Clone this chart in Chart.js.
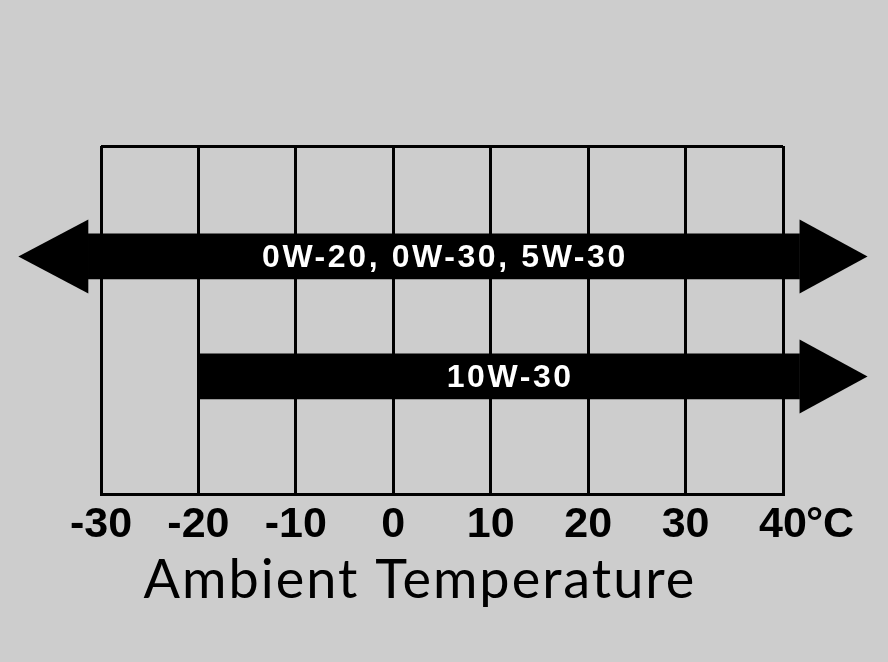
<!DOCTYPE html>
<html>
<head>
<meta charset="utf-8">
<script src="https://cdn.jsdelivr.net/npm/chart.js@4.4.1/dist/chart.umd.min.js"></script>
<style>
  html, body { margin: 0; padding: 0; background: #cdcdcd; }
  canvas { display: block; }
</style>
</head>
<body>
<canvas id="c" width="888" height="662"></canvas>
<script>
// oil grades vs ambient temperature (°C)
const grades    = ["0W-20, 0W-30, 5W-30", "10W-30"];
const rows      = [1, 2];
const rangeLow  = [-31.3, -20];
const rangeHigh = [41.7, 41.7];
const openLow   = [true, false];   // range continues below the scale
const openHigh  = [true, true];    // range continues above the scale
const labelAt   = [5.2, 11.9];
const tickVals  = [-30, -20, -10, 0, 10, 20, 30, 40];
const unit      = "°C";
const axisTitle = "Ambient Temperature";

const INK = "#000";
const TICK_FONT = "bold 43px 'Liberation Sans', Arial, sans-serif";

const arrows = {
  id: "arrows",
  afterDatasetsDraw(chart) {
    const ctx = chart.ctx, x = chart.scales.x;
    const meta = chart.getDatasetMeta(0);
    ctx.save();
    meta.data.forEach((el, i) => {
      const p = el.getProps(["x", "y", "base", "height"], true);
      const head = 37, len = 68;
      ctx.fillStyle = INK;
      if (openHigh[i]) {
        ctx.beginPath();
        ctx.moveTo(p.x, p.y - head);
        ctx.lineTo(p.x + len, p.y);
        ctx.lineTo(p.x, p.y + head);
        ctx.closePath(); ctx.fill();
      }
      if (openLow[i]) {
        ctx.beginPath();
        ctx.moveTo(p.base, p.y - head);
        ctx.lineTo(p.base - len - 2, p.y);
        ctx.lineTo(p.base, p.y + head);
        ctx.closePath(); ctx.fill();
      }
      // grade label
      ctx.fillStyle = "#fff";
      ctx.font = "bold 32px 'Liberation Sans', Arial, sans-serif";
      ctx.letterSpacing = "2.6px";
      ctx.textAlign = "center";
      ctx.textBaseline = "alphabetic";
      ctx.fillText(grades[i], x.getPixelForValue(labelAt[i]) + 1, p.y + 11);
    });
    ctx.restore();
  },
  afterDraw(chart) {
    const ctx = chart.ctx, x = chart.scales.x;
    ctx.save();
    ctx.font = TICK_FONT;
    const w = ctx.measureText(String(tickVals[tickVals.length - 1])).width;
    const px = x.getPixelForValue(tickVals[tickVals.length - 1]) + w / 2 - 1;
    ctx.fillStyle = INK;
    ctx.textAlign = "left";
    ctx.textBaseline = "alphabetic";
    ctx.fillText(unit, px, 537);
    ctx.font = "54px Lato, sans-serif";
    ctx.letterSpacing = "2px";
    ctx.textAlign = "center";
    ctx.fillText(axisTitle, 420, 598);
    ctx.restore();
  }
};

new Chart(document.getElementById("c"), {
  type: "bar",
  data: {
    labels: grades,
    datasets: [{
      data: rows.map((r, i) => ({ x: [rangeLow[i], rangeHigh[i]], y: r })),
      backgroundColor: INK,
      borderWidth: 0,
      borderSkipped: false,
      barThickness: 45,
      clip: false
    }]
  },
  options: {
    indexAxis: "y",
    responsive: false,
    animation: false,
    events: [],
    layout: { padding: { left: 101, right: 105, top: 146, bottom: 108 } },
    plugins: { legend: { display: false }, tooltip: { enabled: false } },
    scales: {
      x: {
        type: "linear", min: -30, max: 40,
        afterBuildTicks: s => { s.ticks = tickVals.map(v => ({ value: v })); },
        afterFit: s => { s.height = 60; },
        grid: { color: INK, lineWidth: 3, drawTicks: false },
        border: { color: INK, width: 3 },
        ticks: { color: INK, padding: 5, font: { family: "'Liberation Sans', Arial, sans-serif", size: 43, weight: "bold" },
                 callback: v => String(v) }
      },
      y: {
        type: "linear", reverse: true, min: 0.08, max: 2.98, offset: false,
        afterBuildTicks: s => { s.ticks = [{ value: s.min }, { value: s.max }]; },
        grid: { color: INK, lineWidth: 3, drawTicks: false, offset: false },
        border: { display: false },
        ticks: { display: false }
      }
    }
  },
  plugins: [arrows]
});
</script>
</body>
</html>
